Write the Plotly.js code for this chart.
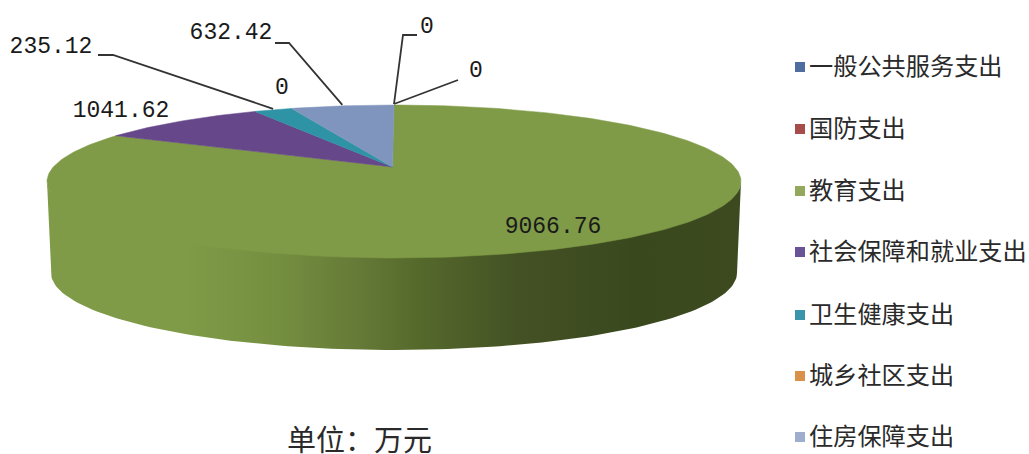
<!DOCTYPE html>
<html><head><meta charset="utf-8">
<script src="https://cdn.plot.ly/plotly-3.0.1.min.js"></script>
<style>html,body{margin:0;padding:0;background:#fff}#c{width:1029px;height:454px}</style>
</head><body><div id="c"></div>
<script>
// ---- data ----
const categories = ['一般公共服务支出','国防支出','教育支出','社会保障和就业支出','卫生健康支出','城乡社区支出','住房保障支出'];
const values = [0, 0, 9066.76, 1041.62, 235.12, 0, 632.42];
const valueLabels = ['0','0','9066.76','1041.62','235.12','0','632.42'];
const colors = ['#4f6d9e','#a84b4b','#7f9b47','#66488a','#2f93a6','#d9914a','#7f95bd'];
const legendColors = ['#4f6d9e','#a84b4b','#93a85a','#6a5296','#3a94ab','#d9914a','#9fadcf'];
const unitTitle = '单位：万元';

// ---- layout of the tilted pie (pixel-scaled axes) ----
const W = 1029, H = 454;
const top3d = {cx: 394, cy: 181.5, rx: 347, ry: 76.5};
const bot3d = {cx: 394, cy: 273, rx: 343, ry: 77};
const persp = 0.19;          // perspective: how far the true centre moves to the back
const total = values.reduce((a, b) => a + b, 0);

// clockwise fraction from 12 o'clock -> point on the top face
function project(frac) {
  const a = frac * 2 * Math.PI, u = Math.sin(a), v = Math.cos(a);
  const d = 1 + persp * v;
  const X = u * Math.sqrt(1 - persp * persp) / d, Y = (v + persp) / d;
  return [top3d.cx + top3d.rx * X, top3d.cy - top3d.ry * Y];
}
const apex = [top3d.cx - 1.5, top3d.cy - top3d.ry * persp];

const traces = [];
// side wall, tucked slightly under the top face so no seam shows
const sx = [], sy = [];
for (let i = 0; i <= 120; i++) { const t = Math.PI * i / 120; sx.push(top3d.cx + top3d.rx * Math.cos(t)); sy.push(top3d.cy + (top3d.ry - 4) * Math.sin(t)); }
for (let i = 120; i >= 0; i--) { const t = Math.PI * i / 120; sx.push(bot3d.cx + bot3d.rx * Math.cos(t)); sy.push(bot3d.cy + bot3d.ry * Math.sin(t)); }
traces.push({type:'scatter', mode:'lines', x:sx, y:sy, fill:'toself', line:{width:0}, hoverinfo:'skip', showlegend:false,
  fillcolor:'#5c7030',
  fillgradient:{type:'horizontal', colorscale:[[0,'#7f9b47'],[0.2,'#7f9b47'],[0.33,'#758f40'],[0.45,'#657a37'],[0.53,'#566a2c'],[0.68,'#435124'],[0.85,'#3a481e'],[1,'#3d4a20']]}});

// slices of the top face
const mids = [];
let cum = 0;
values.forEach((v, i) => {
  const f0 = cum / total, f1 = (cum + v) / total;
  mids.push(project((f0 + f1) / 2));
  cum += v;
  if (v === 0) return;
  const n = Math.max(6, Math.round((f1 - f0) * 360));
  const x = [apex[0]], y = [apex[1]];
  for (let k = 0; k <= n; k++) { const p = project(f0 + (f1 - f0) * k / n); x.push(p[0]); y.push(p[1]); }
  x.push(apex[0]); y.push(apex[1]);
  traces.push({type:'scatter', mode:'lines', x, y, fill:'toself', fillcolor:colors[i], line:{width:0.5, color:colors[i]}, name:categories[i], hoverinfo:'name', showlegend:false});
});

// leader lines: anchored on slice mid-points, elbow and end are label layout
const leaderElbows = [[[403,35],[417,35]], [[458,80]], null, null, [[113,55],[98,55]], null, [[289,43],[275,43]]];
const lx = [], ly = [];
leaderElbows.forEach((e, i) => {
  if (!e) return;
  lx.push(mids[i][0]); ly.push(mids[i][1] - 1);
  e.forEach(p => { lx.push(p[0]); ly.push(p[1]); });
  lx.push(null); ly.push(null);
});
traces.push({type:'scatter', mode:'lines', x:lx, y:ly, line:{color:'#333', width:1.8}, hoverinfo:'skip', showlegend:false});

// value labels
const labelPos = [[427,27],[476,71],[553,227],[121,111],[51,47],[282,88],[231,33]];
traces.push({type:'scatter', mode:'text', x:labelPos.map(p=>p[0]), y:labelPos.map(p=>p[1]), text:valueLabels,
  textposition:'middle center', textfont:{family:'"Liberation Mono", "DejaVu Sans Mono", monospace', size:23, color:'#1a1a1a'}, hoverinfo:'skip', showlegend:false});

// legend column
const legendY = [67,129,191,252,315,376,437];
traces.push({type:'scatter', mode:'markers', x:categories.map(()=>800), y:legendY,
  cliponaxis:false, marker:{symbol:'square', size:10, color:legendColors, line:{width:0}},
  text:categories, hoverinfo:'text', showlegend:false});
traces.push({type:'scatter', mode:'text', x:categories.map(()=>809), y:legendY.map(y=>y+2), text:categories,
  textposition:'middle right', cliponaxis:false,
  textfont:{family:'"Noto Sans CJK SC", sans-serif', size:24.2, color:'#2a2a2a'}, hoverinfo:'skip', showlegend:false});

const layout = {
  width:W, height:H, margin:{l:0,r:0,t:0,b:0}, paper_bgcolor:'#fff', plot_bgcolor:'#fff', showlegend:false,
  annotations:[{text:unitTitle, x:359.5, y:438, xref:'x', yref:'y', xanchor:'center', yanchor:'middle', showarrow:false,
    font:{family:'"Noto Sans CJK SC", sans-serif', size:29, color:'#2a2a2a'}}],
  xaxis:{range:[0,W], visible:false, fixedrange:true},
  yaxis:{range:[H,0], visible:false, fixedrange:true}
};
Plotly.newPlot('c', traces, layout, {displayModeBar:false, responsive:false});
</script></body></html>
